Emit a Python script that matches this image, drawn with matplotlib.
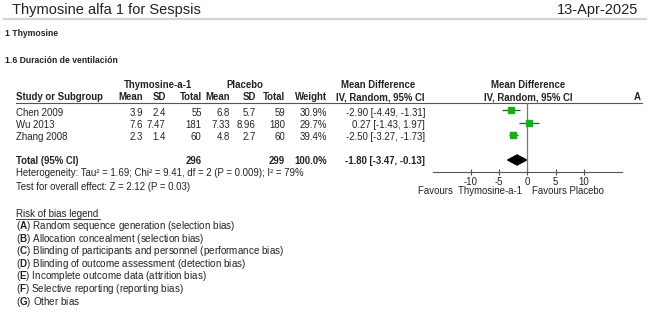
import matplotlib.pyplot as plt
import numpy as np
from matplotlib.patches import Polygon

plt.rcParams['font.family'] = ['Liberation Sans', 'DejaVu Sans']
plt.rcParams['mathtext.fontset'] = 'custom'
plt.rcParams['mathtext.rm'] = 'Liberation Sans'
plt.rcParams['mathtext.bf'] = 'Liberation Sans:bold'

# data
studies = ['Chen 2009', 'Wu 2013', 'Zhang 2008']
exp_mean = ['3.9', '7.6', '2.3']
exp_sd = ['2.4', '7.47', '1.4']
exp_n = [55, 181, 60]
ctl_mean = ['6.8', '7.33', '4.8']
ctl_sd = ['5.7', '8.96', '2.7']
ctl_n = [59, 180, 60]
weight = [30.9, 29.7, 39.4]
md = [-2.90, 0.27, -2.50]
lo = [-4.49, -1.43, -3.27]
hi = [-1.31, 1.97, -1.73]
tot_md, tot_lo, tot_hi = -1.80, -3.47, -0.13
tot_exp, tot_ctl = 296, 299
ticks = [-10, -5, 0, 5, 10]
bias_items = [('A', 'Random sequence generation (selection bias)'),
              ('B', 'Allocation concealment (selection bias)'),
              ('C', 'Blinding of participants and personnel (performance bias)'),
              ('D', 'Blinding of outcome assessment (detection bias)'),
              ('E', 'Incomplete outcome data (attrition bias)'),
              ('F', 'Selective reporting (reporting bias)'),
              ('G', 'Other bias')]

W, H = 650, 314
fig = plt.figure(figsize=(6.5, 3.14), dpi=100)
ax = fig.add_axes([0, 0, 1, 1])
ax.set_xlim(0, W)
ax.set_ylim(H, 0)
ax.axis('off')

tc = '#222222'
fs = 6.9

# title bar
ax.text(12, 14, 'Thymosine alfa 1 for Sespsis', fontsize=10.5, color=tc, va='baseline')
ax.text(638, 14, '13-Apr-2025', fontsize=10.5, color=tc, va='baseline', ha='right')
ax.plot([4, 646], [18.5, 18.5], color='#d4d4d4', lw=1.6)

ax.text(5, 36.5, '1 Thymosine', fontsize=6.2, fontweight='bold', color=tc, va='baseline')
ax.text(5, 63, '1.6 Duración de ventilación', fontsize=6.2, fontweight='bold', color=tc, va='baseline')

# column headers
cols = [143, 165.7, 201.7, 230, 255.7, 285, 327]
ax.text(158, 88.3, 'Thymosine-a-1', fontsize=fs, fontweight='bold', color=tc, va='baseline', ha='center')
ax.text(245, 88.3, 'Placebo', fontsize=fs, fontweight='bold', color=tc, va='baseline', ha='center')
ax.text(378, 88.3, 'Mean Difference', fontsize=fs, fontweight='bold', color=tc, va='baseline', ha='center')
ax.text(528, 88.3, 'Mean Difference', fontsize=fs, fontweight='bold', color=tc, va='baseline', ha='center')
ax.text(16, 100, 'Study or Subgroup', fontsize=fs, fontweight='bold', color=tc, va='baseline')
for x, s in zip(cols, ['Mean', 'SD', 'Total', 'Mean', 'SD', 'Total', 'Weight']):
    ax.text(x, 100, s, fontsize=fs, fontweight='bold', color=tc, va='baseline', ha='right')
ax.text(425, 100, 'IV, Random, 95% CI', fontsize=fs, fontweight='bold', color=tc, va='baseline', ha='right')
ax.text(528, 100, 'IV, Random, 95% CI', fontsize=fs, fontweight='bold', color=tc, va='baseline', ha='center')
ax.text(637, 100, 'A', fontsize=fs, fontweight='bold', color=tc, va='baseline', ha='center')
ax.plot([16, 642], [102.5, 102.5], color='#555555', lw=0.8)

row0, dy = 110, 12.5
for i, s in enumerate(studies):
    yb = row0 + dy * i + 5.5
    ax.text(16, yb, s, fontsize=fs, color=tc, va='baseline')
    vals = [exp_mean[i], exp_sd[i], str(exp_n[i]), ctl_mean[i], ctl_sd[i], str(ctl_n[i]), f'{weight[i]:.1f}%']
    for x, v in zip(cols, vals):
        ax.text(x, yb, v, fontsize=fs, color=tc, va='baseline', ha='right')
    ax.text(425, yb, f'{md[i]:.2f} [{lo[i]:.2f}, {hi[i]:.2f}]', fontsize=fs, color=tc, va='baseline', ha='right')

yb = row0 + dy * 4 + 4.5
ax.text(16, yb, 'Total (95% CI)', fontsize=fs, fontweight='bold', color=tc, va='baseline')
ax.text(cols[2], yb, str(tot_exp), fontsize=fs, fontweight='bold', color=tc, va='baseline', ha='right')
ax.text(cols[5], yb, str(tot_ctl), fontsize=fs, fontweight='bold', color=tc, va='baseline', ha='right')
ax.text(cols[6], yb, f'{sum(weight):.1f}%', fontsize=fs, fontweight='bold', color=tc, va='baseline', ha='right')
ax.text(425, yb, f'{tot_md:.2f} [{tot_lo:.2f}, {tot_hi:.2f}]', fontsize=fs, fontweight='bold', color=tc, va='baseline', ha='right')

ax.text(16, 175.5, 'Heterogeneity: Tau² = 1.69; Chi² = 9.41, df = 2 (P = 0.009); I² = 79%',
        fontsize=fs, color=tc, va='baseline')
ax.text(16, 190, 'Test for overall effect: Z = 2.12 (P = 0.03)', fontsize=fs, color=tc, va='baseline')

# risk of bias legend
ax.text(16, 217, 'Risk of bias legend', fontsize=7, color=tc, va='baseline')
ax.plot([16, 100], [218.8, 218.8], color=tc, lw=0.6)
for i, (k, s) in enumerate(bias_items):
    ax.text(16, 229 + 12.6 * i, '(' + r'$\mathbf{' + k + '}$' + ') ' + s,
            fontsize=7.1, color=tc, va='baseline')

# forest plot
x0, x1, ytop, ybot = 433, 621.7, 102.5, 171.7
fx = fig.add_axes([x0 / W, 1 - ybot / H, (x1 - x0) / W, (ybot - ytop) / H])
fx.set_xlim(-16.6, 16.6)
fx.set_ylim((ybot - row0) / dy, (ytop - row0) / dy)
for sp in ['top', 'left', 'right']:
    fx.spines[sp].set_visible(False)
fx.spines['bottom'].set_color('#555555')
fx.spines['bottom'].set_linewidth(0.8)
fx.patch.set_alpha(0)
fx.set_yticks([])
fx.set_xticks(ticks)
fx.set_xticklabels([str(t) for t in ticks])
fx.tick_params(axis='x', direction='inout', length=5, width=0.8, color='#555555',
               labelsize=fs, labelcolor=tc, pad=1)
fx.axvline(0, color='#777777', lw=0.9)

rows = np.arange(len(studies))
fx.hlines(rows, lo, hi, color='#444444', lw=0.9)
for r, m, w in zip(rows, md, weight):
    fx.plot(m, r, 's', color='#16b016', ms=np.sqrt(w) * 0.78, mec='#16b016')
hd = 0.4
fx.add_patch(Polygon([[tot_lo, 4], [tot_md, 4 - hd], [tot_hi, 4], [tot_md, 4 + hd]],
                     closed=True, color='black'))

ax.text(522, 194, 'Favours  Thymosine-a-1', fontsize=fs, color=tc, va='baseline', ha='right')
ax.text(532, 194, 'Favours Placebo', fontsize=fs, color=tc, va='baseline', ha='left')

fig.savefig('out.png', dpi=100)
